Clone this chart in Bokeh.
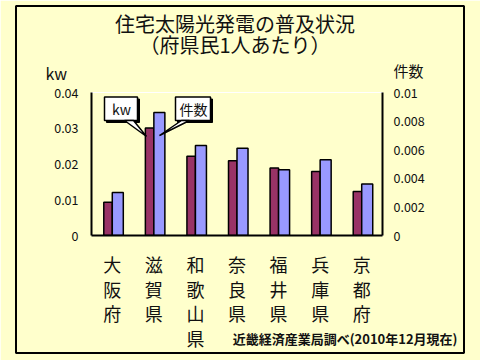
import re
from bokeh.plotting import figure
from bokeh.models import Range1d, LinearAxis, FactorRange, FixedTicker, ColumnDataSource
from bokeh.transform import dodge
from bokeh.core.properties import value
from bokeh.embed import file_html
from bokeh.resources import INLINE

# ---- data ----
cats = ["大阪府", "滋賀県", "和歌山県", "奈良県", "福井県", "兵庫県", "京都府"]
kw = [0.0093, 0.0301, 0.0222, 0.0209, 0.0189, 0.0179, 0.0123]
kensu = [0.0030, 0.0086, 0.0063, 0.0061, 0.0046, 0.0053, 0.0036]
kw_ticks = [0, 0.01, 0.02, 0.03, 0.04]
kw_tick_labels = ["0", "0.01", "0.02", "0.03", "0.04"]
n_ticks = [0, 0.002, 0.004, 0.006, 0.008, 0.01]
n_tick_labels = ["0", "0.002", "0.004", "0.006", "0.008", "0.01"]
title_lines = ["住宅太陽光発電の普及状況", "（府県民1人あたり）"]
left_unit = "kw"
right_unit = "件数"
source_note = "近畿経済産業局調べ(2010年12月現在)"

FONT = "Noto Sans CJK JP"
BG = "#ffffcc"
TXT = "#111111"
KW_COLOR = "#993366"
N_COLOR = "#9999ff"

W, H = 480, 360
FL, FR, FT, FB = 91, 98, 92, 125
fw = W - FL - FR
fh = H - FT - FB
KW_MAX = 0.04
N_MAX = 0.01


def X(px):
    return (px - FL) / fw * len(cats)


def Y(py):
    return (FT + fh - py) / fh * KW_MAX


p = figure(width=W, height=H,
           x_range=FactorRange(factors=cats, range_padding=0),
           y_range=Range1d(0, KW_MAX),
           output_backend="svg", toolbar_location=None, title=None,
           min_border_left=FL, min_border_right=FR, min_border_top=FT, min_border_bottom=FB)
p.extra_y_ranges = {"n": Range1d(0, N_MAX)}
p.background_fill_color = BG
p.border_fill_color = BG
p.outline_line_color = "white"
p.outline_line_width = 1
p.grid.visible = False

# left axis
ya = p.yaxis[0]
ya.ticker = FixedTicker(ticks=kw_ticks)
ya.major_label_overrides = {t: l for t, l in zip(kw_ticks, kw_tick_labels)}
ya.major_tick_line_color = None
ya.minor_tick_line_color = None
ya.major_tick_out = 0
ya.major_tick_in = 0
ya.axis_line_color = "black"
ya.axis_line_width = 2
ya.major_label_standoff = 13
ya.major_label_text_font = FONT
ya.major_label_text_font_size = "12.5px"
ya.major_label_text_color = TXT

# right axis
ra = LinearAxis(y_range_name="n", ticker=FixedTicker(ticks=n_ticks))
ra.major_label_overrides = {t: l for t, l in zip(n_ticks, n_tick_labels)}
ra.major_tick_line_color = None
ra.minor_tick_line_color = None
ra.major_tick_out = 0
ra.major_tick_in = 0
ra.axis_line_color = "black"
ra.axis_line_width = 2
ra.major_label_standoff = 11
ra.major_label_text_font = FONT
ra.major_label_text_font_size = "12.5px"
ra.major_label_text_color = TXT
p.add_layout(ra, "right")

# bottom axis: line only (category names are written vertically below)
xa = p.xaxis[0]
xa.major_tick_line_color = None
xa.minor_tick_line_color = None
xa.major_label_text_font_size = "0px"
xa.axis_line_color = "black"
xa.axis_line_width = 2

src = ColumnDataSource(dict(cat=cats, kw=kw, kensu=kensu))
p.vbar(x=dodge("cat", -0.102, range=p.x_range), top="kw", width=0.205, source=src,
       fill_color=KW_COLOR, line_color="black", line_width=1.5)
p.vbar(x=dodge("cat", 0.1325, range=p.x_range), top="kensu", width=0.265, source=src,
       y_range_name="n", fill_color=N_COLOR, line_color="black", line_width=1.5)


# callouts
def callout(x0, x1, y0, y1, wedge, text, tx, ty):
    sh = 2
    p.quad(left=[X(x0 + sh)], right=[X(x1 + sh)], top=[Y(y0 + sh)], bottom=[Y(y1 + sh)],
           fill_color="black", line_color="black")
    p.quad(left=[X(x0)], right=[X(x1)], top=[Y(y0)], bottom=[Y(y1)],
           fill_color="white", line_color="black", line_width=1.5)
    p.patch(x=[X(a) for a, b in wedge], y=[Y(b) for a, b in wedge],
            fill_color="white", line_color="black", line_width=1.5)
    p.text(x=[X(tx)], y=[Y(ty)], text=[text], text_align="center", text_baseline="middle",
           text_font=value(FONT), text_font_size="14px", text_color=TXT)


callout(104, 137, 96.5, 120, [(124, 120), (146, 136), (133, 120)], left_unit, 121, 108.5)
callout(175, 210, 96.5, 120, [(181, 120), (159, 135), (189, 120)], right_unit, 193, 108.5)


def label(xs, ys, texts, size, align="center", bold=False):
    # text outside the frame: unclipped level
    p.text(x=xs, y=ys, text=texts, text_align=align, text_baseline="middle",
           text_font=value(FONT), text_font_size=size, text_color=TXT,
           text_font_style="bold" if bold else "normal", level="annotation")


# title
label([X(234.5)] * len(title_lines), [Y(23 + k * 21) for k in range(len(title_lines))],
      title_lines, "20px")

# unit labels
label([X(45)], [Y(72)], [left_unit], "16px", align="left")
label([X(393)], [Y(70)], [right_unit], "15px", align="left")

# vertical category labels
cx, cy, ct = [], [], []
for i, c in enumerate(cats):
    for j, ch in enumerate(c):
        cx.append(i + 0.5)
        cy.append(Y(263.5 + j * 24.7))
        ct.append(ch)
label(cx, cy, ct, "18px")

# source note
label([X(457)], [Y(338)], [source_note], "13px", align="right", bold=True)

# outer border
p.quad(left=[X(15.5)], right=[X(463.5)], top=[Y(5.5)], bottom=[Y(352.5)],
       fill_color=None, line_color="black", line_width=2, level="annotation")

html = file_html(p, INLINE)
html = re.sub(r"<body([^>]*)>", r'<body\1 style="background-color:#ffffcc;">', html, count=1)
open("out.html", "w").write(html)
